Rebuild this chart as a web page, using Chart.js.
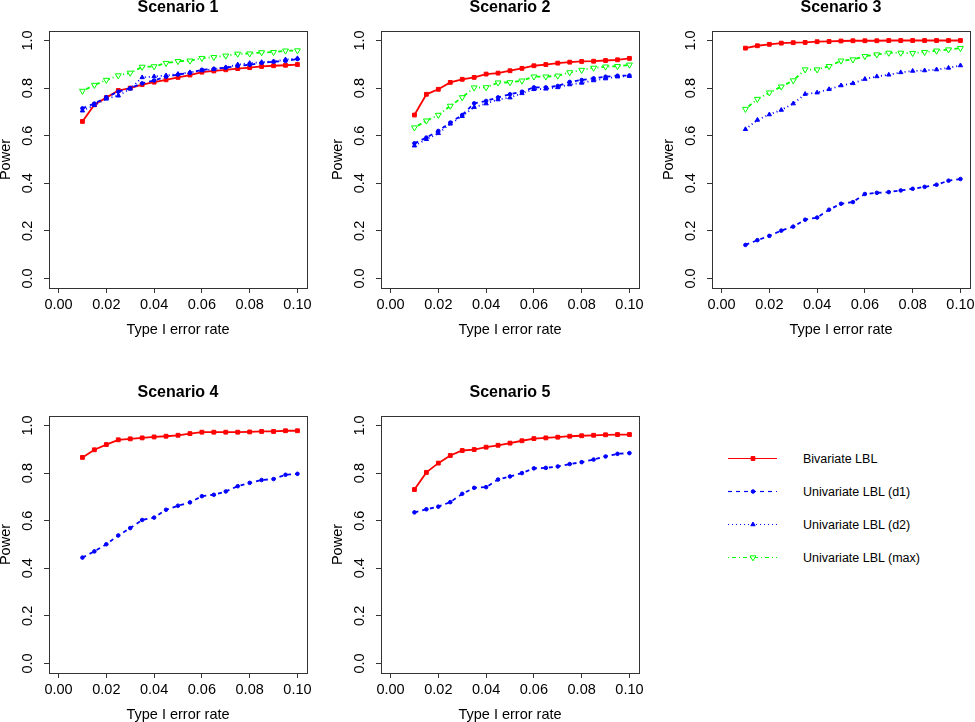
<!DOCTYPE html>
<html>
<head>
<meta charset="utf-8">
<title>Power vs Type I error rate</title>
<script src="https://cdn.jsdelivr.net/npm/chart.js@4.4.1/dist/chart.umd.min.js"></script>
<style>
  html, body { margin: 0; padding: 0; background: #fff; }
  body { width: 975px; height: 722px; overflow: hidden; position: relative; }
  .panel { position: absolute; }
  .legend-text {
    position: absolute;
    font: 12.5px "Liberation Sans", Arial, Helvetica, sans-serif;
    color: #000;
    line-height: 16px;
    white-space: nowrap;
  }
</style>
</head>
<body>
<canvas id="s1" class="panel" width="318" height="337" style="left:-3px;top:0px"></canvas>
<canvas id="s2" class="panel" width="318" height="337" style="left:329px;top:0px"></canvas>
<canvas id="s3" class="panel" width="318" height="337" style="left:660px;top:0px"></canvas>
<canvas id="s4" class="panel" width="318" height="337" style="left:-3px;top:385px"></canvas>
<canvas id="s5" class="panel" width="318" height="337" style="left:329px;top:385px"></canvas>

<canvas id="legendSwatch" class="panel" width="70" height="140" style="left:720px;top:440px"></canvas>
<div class="legend-text" style="left:803px;top:450.5px">Bivariate LBL</div>
<div class="legend-text" style="left:803px;top:483.5px">Univariate LBL (d1)</div>
<div class="legend-text" style="left:803px;top:516.5px">Univariate LBL (d2)</div>
<div class="legend-text" style="left:803px;top:549.5px">Univariate LBL (max)</div>

<script>
/* ---- data ---- */

const xValues = [0.01, 0.015, 0.02, 0.025, 0.03, 0.035, 0.04, 0.045, 0.05, 0.055,
                 0.06, 0.065, 0.07, 0.075, 0.08, 0.085, 0.09, 0.095, 0.1];
const xTicks = [0, 0.02, 0.04, 0.06, 0.08, 0.1];
const yTicks = [0, 0.2, 0.4, 0.6, 0.8, 1.0];

// Scenario 1
const s1Biv = [0.66, 0.73, 0.76, 0.79, 0.80, 0.815, 0.825, 0.835, 0.845, 0.855, 0.867, 0.872, 0.877, 0.882, 0.886, 0.891, 0.894, 0.896, 0.899];
const s1D1  = [0.715, 0.735, 0.762, 0.785, 0.80, 0.82, 0.832, 0.848, 0.857, 0.864, 0.877, 0.881, 0.886, 0.893, 0.898, 0.906, 0.911, 0.914, 0.922];
const s1D2  = [0.705, 0.728, 0.755, 0.768, 0.797, 0.845, 0.849, 0.853, 0.859, 0.866, 0.874, 0.879, 0.887, 0.899, 0.905, 0.909, 0.912, 0.92, 0.925];
const s1Max = [0.788, 0.813, 0.834, 0.853, 0.864, 0.889, 0.891, 0.905, 0.913, 0.915, 0.926, 0.93, 0.936, 0.944, 0.945, 0.95, 0.951, 0.957, 0.958];

// Scenario 2
const s2Biv = [0.687, 0.774, 0.795, 0.824, 0.837, 0.845, 0.859, 0.863, 0.873, 0.883, 0.894, 0.899, 0.905, 0.909, 0.912, 0.913, 0.916, 0.919, 0.925];
const s2D1  = [0.568, 0.592, 0.62, 0.655, 0.687, 0.736, 0.746, 0.761, 0.774, 0.785, 0.803, 0.803, 0.809, 0.826, 0.834, 0.841, 0.848, 0.852, 0.853];
const s2D2  = [0.558, 0.585, 0.61, 0.65, 0.682, 0.72, 0.735, 0.752, 0.76, 0.778, 0.795, 0.797, 0.803, 0.815, 0.822, 0.832, 0.84, 0.848, 0.85];
const s2Max = [0.634, 0.663, 0.687, 0.725, 0.761, 0.802, 0.803, 0.823, 0.824, 0.831, 0.848, 0.848, 0.852, 0.866, 0.876, 0.885, 0.89, 0.892, 0.898];

// Scenario 3
const s3Biv = [0.968, 0.978, 0.984, 0.989, 0.991, 0.992, 0.995, 0.996, 0.998, 0.999, 0.999, 0.999, 1.0, 1.0, 1.0, 1.0, 1.0, 1.0, 1.0];
const s3D1  = [0.141, 0.161, 0.179, 0.201, 0.218, 0.247, 0.256, 0.289, 0.314, 0.321, 0.355, 0.36, 0.363, 0.37, 0.377, 0.385, 0.394, 0.411, 0.418];
const s3D2  = [0.627, 0.666, 0.689, 0.708, 0.735, 0.775, 0.781, 0.795, 0.811, 0.82, 0.838, 0.849, 0.856, 0.866, 0.872, 0.874, 0.878, 0.885, 0.895];
const s3Max = [0.712, 0.754, 0.781, 0.806, 0.832, 0.878, 0.878, 0.892, 0.915, 0.92, 0.934, 0.941, 0.948, 0.948, 0.947, 0.951, 0.957, 0.962, 0.968];

// Scenario 4
const s4Biv = [0.866, 0.898, 0.92, 0.94, 0.944, 0.948, 0.952, 0.955, 0.959, 0.966, 0.972, 0.972, 0.972, 0.972, 0.973, 0.975, 0.975, 0.978, 0.978];
const s4D1  = [0.445, 0.471, 0.501, 0.538, 0.569, 0.603, 0.613, 0.646, 0.663, 0.677, 0.703, 0.709, 0.723, 0.745, 0.759, 0.771, 0.775, 0.793, 0.797];

// Scenario 5
const s5Biv = [0.731, 0.803, 0.842, 0.874, 0.895, 0.899, 0.909, 0.917, 0.926, 0.936, 0.945, 0.948, 0.951, 0.955, 0.957, 0.959, 0.961, 0.962, 0.962];
const s5D1  = [0.635, 0.648, 0.659, 0.678, 0.713, 0.738, 0.741, 0.773, 0.786, 0.80, 0.82, 0.822, 0.828, 0.838, 0.846, 0.857, 0.87, 0.881, 0.884];

/* ---- styles ---- */

const FONT = '"Liberation Sans", Arial, Helvetica, sans-serif';
const AXIS_COLOR = '#333';

const STYLES = {
  biv: { label: 'Bivariate LBL',        color: '#FF0000', dash: [],           shape: 'rect',     r: 2.7, rot: 0,   fill: '#FF0000', order: 3 },
  d1:  { label: 'Univariate LBL (d1)',  color: '#0000FF', dash: [4, 4],       shape: 'circle',   r: 1.8, rot: 0,   fill: '#0000FF', order: 2 },
  d2:  { label: 'Univariate LBL (d2)',  color: '#0000FF', dash: [1, 3],       shape: 'triangle', r: 2.5, rot: 0,   fill: '#0000FF', order: 1 },
  max: { label: 'Univariate LBL (max)', color: '#00FF00', dash: [1, 3, 4, 3], shape: 'triangle', r: 3.4, rot: 180, fill: '#FFFFFF', order: 0 },
};

function makeDataset(key, values) {
  const s = STYLES[key];
  return {
    label: s.label,
    data: xValues.map((x, i) => ({ x: x, y: values[i] })),
    borderColor: s.color,
    borderWidth: 1.8,
    borderDash: s.dash,
    pointStyle: s.shape,
    pointRadius: s.r,
    pointHoverRadius: s.r,
    pointRotation: s.rot,
    pointBackgroundColor: s.fill,
    pointBorderColor: s.color,
    pointBorderWidth: 1,
    tension: 0,
    fill: false,
    order: s.order,
  };
}

// box round the plot region + panel title, R style
const framePlugin = {
  id: 'frame',
  afterDraw(chart, args, opts) {
    const { ctx, chartArea: a } = chart;
    ctx.save();
    ctx.strokeStyle = AXIS_COLOR;
    ctx.lineWidth = 1;
    ctx.strokeRect(Math.round(a.left) + 0.5, Math.round(a.top) + 0.5, Math.round(a.width), Math.round(a.height));
    ctx.font = 'bold 16px ' + FONT;
    ctx.fillStyle = '#000';
    ctx.textAlign = 'center';
    ctx.textBaseline = 'middle';
    ctx.fillText(opts.text, (a.left + a.right) / 2, a.top - 23);
    ctx.restore();
  }
};

function makePanel(id, title, datasets) {
  new Chart(document.getElementById(id), {
    type: 'line',
    data: { datasets: datasets },
    plugins: [framePlugin],
    options: {
      responsive: false,
      animation: false,
      devicePixelRatio: 1,
      layout: { padding: { top: 31, left: 0, right: 8, bottom: 0 } },
      plugins: {
        legend: { display: false },
        tooltip: { enabled: false },
        frame: { text: title },
      },
      scales: {
        x: {
          type: 'linear',
          min: -0.004,
          max: 0.104,
          afterBuildTicks: (scale) => { scale.ticks = xTicks.map(v => ({ value: v })); },
          afterFit: (scale) => { scale.height = 49; },
          grid: { display: true, drawOnChartArea: false, drawTicks: true, tickLength: 5, color: AXIS_COLOR, lineWidth: 1 },
          border: { display: false },
          ticks: {
            autoSkip: false, maxRotation: 0, padding: 3,
            color: '#000', font: { family: FONT, size: 14.5 },
            callback: (v) => Number(v).toFixed(2),
          },
          title: {
            display: true, text: 'Type I error rate', color: '#000',
            font: { family: FONT, size: 14.5, lineHeight: 1 }, padding: { top: 0, bottom: 0 },
          },
        },
        y: {
          type: 'linear',
          min: -0.04,
          max: 1.04,
          afterBuildTicks: (scale) => { scale.ticks = yTicks.map(v => ({ value: v })); },
          afterFit: (scale) => { scale.width = 52; },
          grid: { display: true, drawOnChartArea: false, drawTicks: true, tickLength: 5, color: AXIS_COLOR, lineWidth: 1 },
          border: { display: false },
          ticks: {
            autoSkip: false, minRotation: 90, maxRotation: 90, crossAlign: 'center', padding: 6,
            color: '#000', font: { family: FONT, size: 14.5 },
            callback: (v) => Number(v).toFixed(1),
          },
          title: {
            display: true, text: 'Power', color: '#000',
            font: { family: FONT, size: 14.5 }, padding: { top: 0, bottom: 0 },
          },
        },
      },
    },
  });
}

makePanel('s1', 'Scenario 1', [makeDataset('biv', s1Biv), makeDataset('d1', s1D1), makeDataset('d2', s1D2), makeDataset('max', s1Max)]);
makePanel('s2', 'Scenario 2', [makeDataset('biv', s2Biv), makeDataset('d1', s2D1), makeDataset('d2', s2D2), makeDataset('max', s2Max)]);
makePanel('s3', 'Scenario 3', [makeDataset('biv', s3Biv), makeDataset('d1', s3D1), makeDataset('d2', s3D2), makeDataset('max', s3Max)]);
makePanel('s4', 'Scenario 4', [makeDataset('biv', s4Biv), makeDataset('d1', s4D1)]);
makePanel('s5', 'Scenario 5', [makeDataset('biv', s5Biv), makeDataset('d1', s5D1)]);

// legend swatches (line + marker), drawn by hand
function drawMarker(ctx, s, x, y) {
  ctx.beginPath();
  if (s.shape === 'rect') {
    const h = s.r * Math.SQRT1_2;
    ctx.rect(x - h, y - h, 2 * h, 2 * h);
  } else if (s.shape === 'circle') {
    ctx.arc(x, y, s.r, 0, Math.PI * 2);
  } else {
    const dir = s.rot === 180 ? -1 : 1;
    const r = s.r;
    ctx.moveTo(x, y - dir * r);
    ctx.lineTo(x + r * Math.sin(Math.PI * 2 / 3), y + dir * r / 2);
    ctx.lineTo(x - r * Math.sin(Math.PI * 2 / 3), y + dir * r / 2);
    ctx.closePath();
  }
  ctx.setLineDash([]);
  ctx.fillStyle = s.fill;
  ctx.fill();
  ctx.strokeStyle = s.color;
  ctx.lineWidth = 1;
  ctx.stroke();
}

const legendKeys = ['biv', 'd1', 'd2', 'max'];
const legendRowY = [18.5, 51.5, 84.5, 117.5];
const lctx = document.getElementById('legendSwatch').getContext('2d');
legendKeys.forEach((k, i) => {
  const s = STYLES[k];
  const y = legendRowY[i];
  lctx.save();
  lctx.strokeStyle = s.color;
  lctx.lineWidth = 1.2;
  lctx.setLineDash(s.dash);
  lctx.beginPath();
  lctx.moveTo(8, y);
  lctx.lineTo(57, y);
  lctx.stroke();
  drawMarker(lctx, s, 33, y);
  lctx.restore();
});
</script>
</body>
</html>
